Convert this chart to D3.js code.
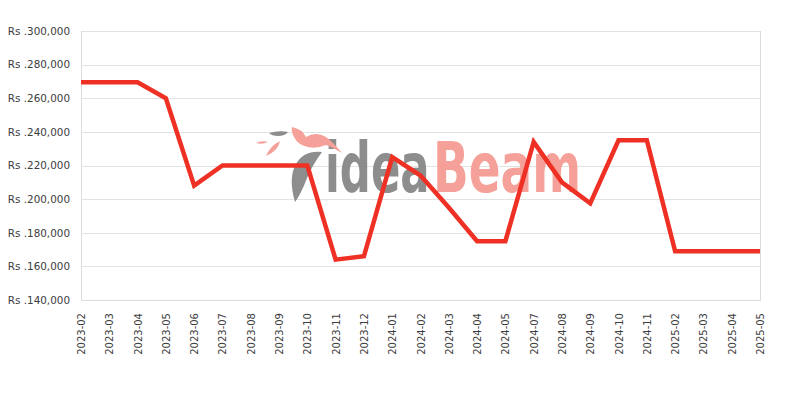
<!DOCTYPE html>
<html>
<head>
<meta charset="utf-8">
<script src="https://cdnjs.cloudflare.com/ajax/libs/d3/7.8.5/d3.min.js"></script>
<style>
  html, body { margin: 0; padding: 0; background: #fff; }
  svg { display: block; }
</style>
</head>
<body>
<svg id="chart" width="800" height="400"></svg>
<script>
const categories = ["2023-02","2023-03","2023-04","2023-05","2023-06","2023-07","2023-08","2023-09","2023-10","2023-11","2023-12","2024-01","2024-02","2024-03","2024-04","2024-05","2024-07","2024-08","2024-09","2024-10","2024-11","2025-02","2025-03","2025-04","2025-05"];
const prices = [269500,269500,269500,260000,208000,220000,220000,220000,220000,164000,166000,225000,214000,195000,175000,175000,234000,210000,197500,235000,235000,169000,169000,169000,169000];
const yTicks = [140000,160000,180000,200000,220000,240000,260000,280000,300000];

(function () {
const svg = d3.select("#chart");
const pLeft = 81, pRight = 760, pTop = 31, pBottom = 300;

const x = d3.scalePoint().domain(categories).range([pLeft, pRight]);
const y = d3.scaleLinear().domain([140000, 300000]).range([pBottom, pTop]);

// gridlines
const grid = svg.append("g");
grid.selectAll("line").data(yTicks).enter().append("line")
  .attr("x1", pLeft).attr("x2", pRight)
  .attr("y1", d => Math.round(y(d)) + 0.5).attr("y2", d => Math.round(y(d)) + 0.5)
  .attr("stroke", "#e2e2e2").attr("stroke-width", 1);
// border verticals
svg.append("line").attr("x1", pLeft + 0.5).attr("x2", pLeft + 0.5).attr("y1", pTop).attr("y2", pBottom + 0.5)
  .attr("stroke", "#dcdcdc");
svg.append("line").attr("x1", pRight + 0.5).attr("x2", pRight + 0.5).attr("y1", pTop).attr("y2", pBottom + 0.5)
  .attr("stroke", "#dcdcdc");

// y axis
const fmt = d3.format(",");
const yAxis = d3.axisLeft(y).tickValues(yTicks).tickSize(0).tickPadding(0)
  .tickFormat(d => "Rs ." + fmt(d));
const yg = svg.append("g").attr("transform", `translate(${pLeft - 11},0)`).call(yAxis);
yg.select(".domain").remove();
yg.selectAll("text").attr("font-family", "DejaVu Sans, sans-serif").attr("font-size", "10.4px").attr("fill", "#3d3d3d");

// x axis
const xAxis = d3.axisBottom(x).tickSize(0).tickPadding(0);
const xg = svg.append("g").attr("transform", `translate(0,${pBottom})`).call(xAxis);
xg.select(".domain").attr("stroke", "#dcdcdc");
xg.selectAll("text")
  .attr("font-family", "DejaVu Sans, sans-serif").attr("font-size", "10px").attr("fill", "#3d3d3d")
  .attr("transform", "rotate(-90)")
  .attr("text-anchor", "end")
  .attr("dy", "0.35em")
  .attr("x", -13).attr("y", 0);

// watermark
const wm = svg.append("g").attr("opacity", 0.95);
wm.append("g").attr("transform", "translate(325,192) scale(0.62,1)")
  .append("text").attr("x", 0).attr("y", 0)
  .attr("font-family", "DejaVu Sans, sans-serif").attr("font-size", "70px").attr("font-weight", "bold")
  .attr("fill", "#878787").text("idea");
wm.append("g").attr("transform", "translate(433,192) scale(0.67,1)")
  .append("text").attr("x", 0).attr("y", 0)
  .attr("font-family", "DejaVu Sans, sans-serif").attr("font-size", "70px").attr("font-weight", "bold")
  .attr("fill", "#f59b93").text("Beam");
// bird logo (decorative)
wm.append("path").attr("d", "M256,143 q6,-3 12,-1 q-6,3 -12,1 z").attr("fill", "#f59b93");
wm.append("path").attr("d", "M266,156 q4,-10 14,-15 q-2,10 -14,15 z").attr("fill", "#f59b93");
wm.append("path").attr("d", "M269,133 q10,-3 19,-1 q-3,4 -10,4 q-6,0 -9,-3 z").attr("fill", "#878787");
wm.append("path").attr("d", "M292,127 q10,2 14,10 q10,-6 20,0 q8,6 16,16 q-10,-6 -16,-8 q-10,4 -18,2 q-10,-2 -14,-10 q-3,-6 -2,-10 z").attr("fill", "#f59b93");
wm.append("path").attr("d", "M322,152 q-18,-2 -26,12 q-8,14 -1,38 q6,-8 12,-24 q6,-14 15,-26 z").attr("fill", "#878787");

// price line
const line = d3.line().x((d, i) => x(categories[i])).y(d => y(d));
svg.append("path").datum(prices)
  .attr("d", line)
  .attr("fill", "none")
  .attr("stroke", "#ee3124")
  .attr("stroke-width", 4.5)
  .attr("stroke-linejoin", "miter");
})();
</script>
</body>
</html>
